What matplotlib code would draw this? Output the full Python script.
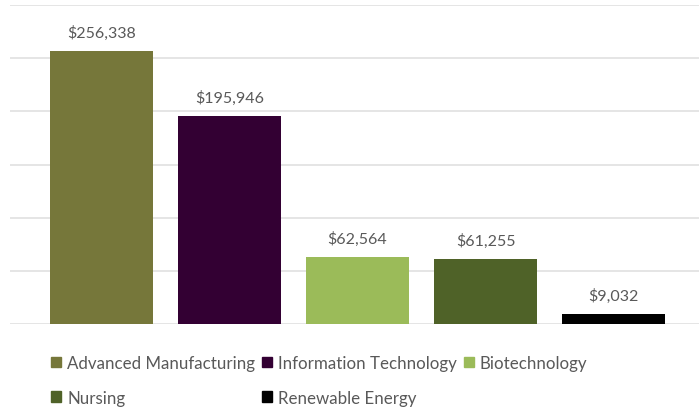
import matplotlib
matplotlib.use("Agg")
from matplotlib import pyplot as plt
from matplotlib.patches import Patch

# data
categories = ["Advanced Manufacturing", "Information Technology", "Biotechnology",
              "Nursing", "Renewable Energy"]
values = [256338, 195946, 62564, 61255, 9032]
colors = ["#76773A", "#330033", "#9BBB59", "#4F6228", "#000000"]

plt.rcParams['font.family'] = ['Lato', 'DejaVu Sans']

W, H = 699, 410
fig = plt.figure(figsize=(W / 100, H / 100), dpi=100)
# axes placed so the grid spans the width as in the reference
ax = fig.add_axes([10 / W, (H - 325) / H, (W - 10) / W, (325 - 6) / H])

x = list(range(len(categories)))
bars = ax.bar(x, values, width=0.8, color=colors, zorder=3)

for xi, v in zip(x, values):
    ax.annotate("${:,}".format(v), (xi, v), xytext=(0, 8), textcoords="offset points",
                ha="center", va="bottom", fontsize=11.5, color="#595959")

ax.set_xlim(-0.715, 4.668)
ax.set_ylim(0, 300000)
ax.set_yticks(range(0, 300001, 50000))
ax.grid(axis="y", color="#e0e0e0", linewidth=1.2, zorder=0)
ax.tick_params(left=False, bottom=False, labelleft=False, labelbottom=False)
for s in ax.spines.values():
    s.set_visible(False)

# legend, row-major like the original (matplotlib fills column by column)
order = [0, 3, 1, 4, 2]
handles = [Patch(color=colors[i]) for i in order]
labels = [categories[i] for i in order]
fig.legend(handles, labels, ncol=3, loc="upper left", bbox_to_anchor=(51 / W, 1 - 356 / H),
           frameon=False, fontsize=12.2, labelcolor="#595959", handlelength=0.6,
           handleheight=0.6, handletextpad=0.35, columnspacing=0.4, labelspacing=1.1,
           borderaxespad=0, borderpad=0)

fig.savefig("out.png", dpi=100)
